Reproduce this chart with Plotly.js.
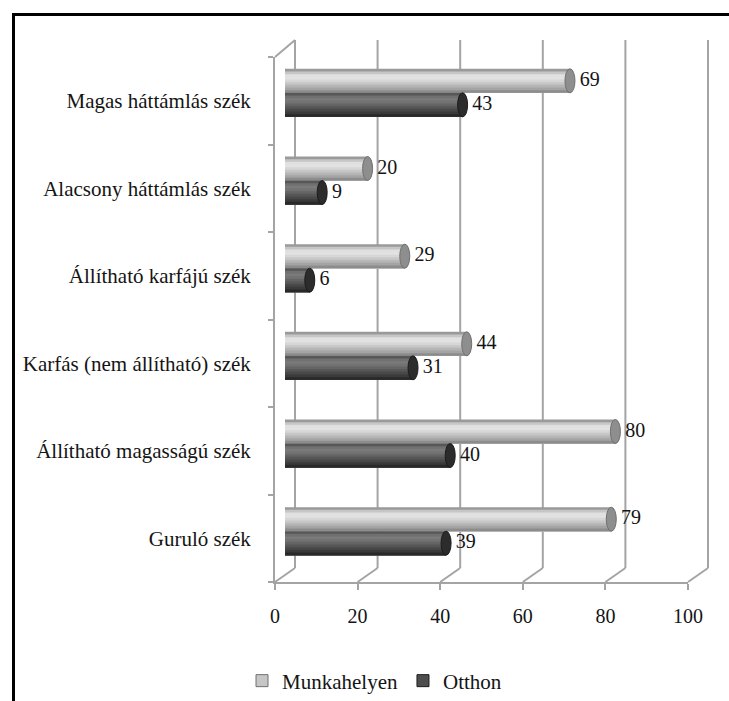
<!DOCTYPE html>
<html>
<head>
<meta charset="utf-8">
<script src="https://cdn.plot.ly/plotly-3.0.1.min.js"></script>
<style>
  html, body { margin: 0; padding: 0; background: #fff; }
  #wrap { position: relative; width: 729px; height: 701px; overflow: hidden; }
  #chart { position: absolute; left: 0; top: 0; width: 729px; height: 701px; }
  #frame { position: absolute; left: 12px; top: 13px; width: 800px; height: 800px;
           border-left: 3px solid #000; border-top: 3px solid #000; pointer-events: none; }
</style>
</head>
<body>
<div id="wrap"><div id="chart"></div><div id="frame"></div></div>
<script>
// Chair types, top to bottom
const categories = [
  'Magas háttámlás szék',
  'Alacsony háttámlás szék',
  'Állítható karfájú szék',
  'Karfás (nem állítható) szék',
  'Állítható magasságú szék',
  'Guruló szék'
];
const munkahelyen = [69, 20, 29, 44, 80, 79];
const otthon = [43, 9, 6, 31, 40, 39];
const seriesNames = ['Munkahelyen', 'Otthon'];
const xTicks = [0, 20, 40, 60, 80, 100];

// ---- geometry (pixels) ----
const W = 729, H = 701;
const M = { l: 270, r: 17, t: 36, b: 115 };
const PW = W - M.l - M.r, PH = H - M.t - M.b;
const fx = px => (px - M.l) / PW;
const fy = py => (H - M.b - py) / PH;

// front plane, mid depth (bars), back wall
const FRONT = { x0: 275, x1: 688, y0: 57, y1: 582 };
const MID   = { x0: 285, x1: 698, y0: 49, y1: 575 };
const BACK  = { x0: 295, x1: 708, y0: 40, y1: 568 };
const BOX   = { x0: 270, x1: 712, y0: 36, y1: 586 };   // area holding the wall and floor lines
const DX = BACK.x0 - FRONT.x0;
const DY_BOTTOM = FRONT.y1 - BACK.y1;
const DY_TOP = FRONT.y0 - BACK.y0;

const FONT = '"Liberation Serif", "DejaVu Serif", serif';
const TXT = '#141414';
const GRID = '#a4a4a4';
const NUM_SIZE = 20;
const LABEL_SIZE = 21;

const idx = categories.map((_, i) => i);
const yRange = [categories.length - 0.5, -0.5];
const barW = 24 / ((MID.y1 - MID.y0) / categories.length); // bar thickness in category units

// back-wall axis ranges so that 0..100 sits on the back plane inside the larger box
const backUnit = (BACK.x1 - BACK.x0) / 100;
const backXRange = [-(BACK.x0 - BOX.x0) / backUnit, 100 + (BOX.x1 - BACK.x1) / backUnit];
const backYUnit = BACK.y1 - BACK.y0;
const backYRange = [-(BOX.y1 - BACK.y1) / backYUnit, 1 + (BACK.y0 - BOX.y0) / backYUnit];

// cylinder shading bands, top to bottom
const shades = [
  ['#9a9a9a', '#c6c6c6', '#e0e0e0', '#e2e2e2', '#d6d6d6', '#c6c6c6', '#b5b5b5', '#a4a4a4', '#8c8c8c'],
  ['#575757', '#707070', '#7a7a7a', '#727272', '#646464', '#565656', '#484848', '#3a3a3a', '#292929']
];
const capFill = ['#8e8e8e', '#2c2c2c'];
const capLine = ['#707070', '#1c1c1c'];
const legendColor = ['#c6c6c6', '#4e4e4e'];

const seriesValues = [munkahelyen, otthon];
const seriesOffset = [-barW, 0];

const traces = [];
const shapes = [];

// back wall grid lines and floor edges
xTicks.forEach(v => {
  shapes.push({
    type: 'line', xref: 'x', yref: 'y', layer: 'below',
    x0: v, x1: v, y0: 0, y1: 1,
    line: { color: GRID, width: 2 }
  });
  shapes.push({
    type: 'line', xref: 'x', yref: 'y', layer: 'below',
    xsizemode: 'pixel', xanchor: v, x0: -DX, x1: 0,
    ysizemode: 'pixel', yanchor: 0, y0: -DY_BOTTOM, y1: 0,
    line: { color: GRID, width: 2 }
  });
});
// top edge of the side wall
shapes.push({
  type: 'line', xref: 'x', yref: 'y', layer: 'below',
  xsizemode: 'pixel', xanchor: 0, x0: -DX, x1: 0,
  ysizemode: 'pixel', yanchor: 1, y0: -DY_TOP, y1: 0,
  line: { color: GRID, width: 2 }
});

seriesValues.forEach((vals, s) => {
  const n = shades[s].length;
  // each band reaches to the bottom of the bar; later bands cover the lower part
  shades[s].forEach((col, k) => {
    traces.push({
      type: 'bar', orientation: 'h',
      x: vals, y: idx, xaxis: 'x2', yaxis: 'y2',
      width: barW - k * barW / n, offset: seriesOffset[s] + k * barW / n,
      marker: { color: col, line: { width: 0 } },
      name: seriesNames[s], showlegend: false, hoverinfo: 'skip'
    });
  });
  vals.forEach((v, i) => {
    const ya = i + seriesOffset[s], yb = ya + barW;
    // end face of the cylinder
    shapes.push({
      type: 'circle', xref: 'x2', yref: 'y2', xsizemode: 'pixel', xanchor: v,
      x0: -5, x1: 5, y0: ya, y1: yb,
      fillcolor: capFill[s], line: { color: capLine[s], width: 1 }, layer: 'above'
    });
    // rounded start of the cylinder
    shapes.push({
      type: 'circle', xref: 'x2', yref: 'y2', xsizemode: 'pixel', xanchor: 0,
      x0: -5, x1: 5, y0: ya, y1: yb,
      fillcolor: shades[s][5], line: { width: 0 }, layer: 'below'
    });
  });
});

// legend entries (kept on the front axes so that those axes are drawn)
seriesValues.forEach((vals, s) => {
  traces.push({
    type: 'bar', orientation: 'h', x: [null], y: [null], xaxis: 'x3', yaxis: 'y3',
    name: seriesNames[s], marker: { color: legendColor[s], line: { color: capLine[s], width: 1 } },
    showlegend: true, hoverinfo: 'skip'
  });
});

// value labels
seriesValues.forEach((vals, s) => {
  traces.push({
    type: 'scatter', mode: 'markers+text',
    x: vals, y: idx.map(i => i + seriesOffset[s] + barW / 2),
    xaxis: 'x2', yaxis: 'y2',
    text: vals.map(String), textposition: 'middle right',
    textfont: { family: FONT, size: NUM_SIZE, color: TXT },
    marker: { size: 14, color: 'rgba(0,0,0,0)' },
    cliponaxis: false, showlegend: false, hoverinfo: 'skip'
  });
});

const layout = {
  width: W, height: H,
  margin: Object.assign({ autoexpand: false }, M),
  font: { family: FONT, size: NUM_SIZE, color: TXT },
  paper_bgcolor: '#fff', plot_bgcolor: 'rgba(0,0,0,0)',
  barmode: 'overlay',
  hovermode: false,
  showlegend: true,
  legend: {
    orientation: 'h', x: fx(242), xanchor: 'left', y: fy(681), yanchor: 'middle',
    font: { family: FONT, size: LABEL_SIZE, color: TXT }, itemwidth: 30, bgcolor: 'rgba(0,0,0,0)'
  },
  // back wall and floor frame
  xaxis: { visible: false, domain: [fx(BOX.x0), fx(BOX.x1)], anchor: 'y', range: backXRange, fixedrange: true },
  yaxis: { visible: false, domain: [fy(BOX.y1), fy(BOX.y0)], anchor: 'x', range: backYRange, fixedrange: true },
  // bars at mid depth
  xaxis2: { domain: [fx(MID.x0), fx(MID.x1)], anchor: 'y2', range: [0, 100], visible: false, fixedrange: true },
  yaxis2: { domain: [fy(MID.y1), fy(MID.y0)], anchor: 'x2', range: yRange, visible: false, fixedrange: true },
  // front axes with labels
  xaxis3: {
    type: 'linear',
    domain: [fx(FRONT.x0), fx(FRONT.x1)], anchor: 'y3', range: [0, 100],
    tickmode: 'array', tickvals: xTicks, ticks: 'outside', ticklen: 6, tickwidth: 2, tickcolor: GRID,
    showline: true, linecolor: GRID, linewidth: 2, showgrid: false, zeroline: false,
    tickfont: { family: FONT, size: NUM_SIZE, color: TXT }, ticklabelstandoff: 9, fixedrange: true
  },
  yaxis3: {
    type: 'linear',
    domain: [fy(FRONT.y1), fy(FRONT.y0)], anchor: 'x3', range: yRange,
    tickmode: 'array', tickvals: idx, ticktext: categories, ticks: '',
    showline: true, linecolor: GRID, linewidth: 2, showgrid: false, zeroline: false,
    minor: {
      tickmode: 'array', tickvals: [-0.5].concat(idx.map(i => i + 0.5)),
      ticks: 'outside', ticklen: 5, tickwidth: 2, tickcolor: GRID, showgrid: false
    },
    tickfont: { family: FONT, size: LABEL_SIZE, color: TXT }, ticklabelstandoff: 18, fixedrange: true
  },
  shapes: shapes
};

Plotly.newPlot('chart', traces, layout, { displayModeBar: false, staticPlot: true });
</script>
</body>
</html>
